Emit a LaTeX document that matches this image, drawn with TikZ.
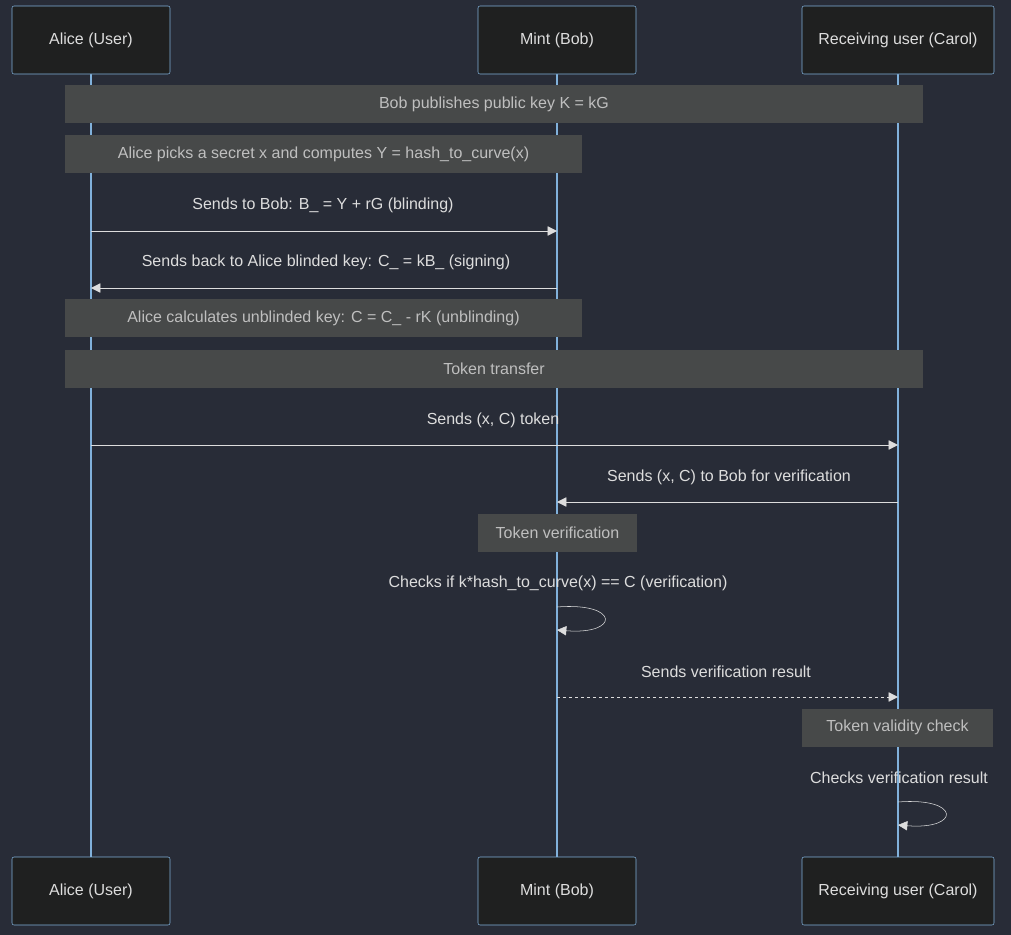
\documentclass[tikz,border=0pt]{standalone}
\usepackage{fontspec}
\setmainfont{Liberation Sans}
\usetikzlibrary{arrows.meta,positioning,calc}
\definecolor{bg}{HTML}{282C37}
\definecolor{actfill}{HTML}{1F2020}
\definecolor{actline}{HTML}{81B1DB}
\definecolor{notefill}{HTML}{474949}
\definecolor{msg}{HTML}{DDDDDD}
\definecolor{notetxt}{HTML}{BFBFBF}
\begin{document}
\begin{tikzpicture}[
		x=0.75pt, y=-0.75pt,
		font=\fontsize{12}{14}\selectfont,
		actor/.style={
			draw=actline, fill=actfill, text=msg, rounded corners=1.5pt, minimum height=51pt, inner sep=0pt
		},
		note/.style={
			fill=notefill, text=notetxt, minimum height=28.5pt, inner sep=0pt
		},
		msgtext/.style={text=msg},
		message/.style={draw=msg, -{Triangle[length=7pt,width=7pt]}},
		life/.style={draw=actline, line width=0.8pt},
		]
		\fill [bg] (0,0) rectangle (1011,935);
		\useasboundingbox (0,0) rectangle (1011,935);
		% lifelines
		\draw [life] (91,74) -- (91,857);
		\draw [life] (557,74) -- (557,857);
		\draw [life] (898,74) -- (898,857);
		% actors
		\node [actor, minimum width=118.5pt] (alice) at (91,40) {Alice (User)};
		\node [actor, minimum width=118.5pt] (mint) at (557,40) {Mint (Bob)};
		\node [actor, minimum width=144pt] (carol) at (898,40) {Receiving user (Carol)};
		\node [actor, minimum width=118.5pt] (aliceB) at (91,891) {Alice (User)};
		\node [actor, minimum width=118.5pt] (mintB) at (557,891) {Mint (Bob)};
		\node [actor, minimum width=144pt] (carolB) at (898,891) {Receiving user (Carol)};
		
		% notes
		\node [note, minimum width=643.5pt] (pub) at (494,104) {Bob publishes public key K = kG};
		\node [note, minimum width=387.75pt] (pick) at (323.5,154) {Alice picks a secret x and computes Y = hash\_to\_curve(x)};
		\node [note, minimum width=387.75pt] (calc) at (323.5,318) {Alice calculates unblinded key: C = C\_ - rK (unblinding)};
		\node [note, minimum width=643.5pt] (transfer) at (494,369) {Token transfer};
		\node [note, minimum width=119.25pt] (verif) at (557.5,532.5) {Token verification};
		\node [note, minimum width=143.25pt] (valid) at (897.5,727.5) {Token validity check};
		
		% message points
		\coordinate (a1) at (91,231); \coordinate (m1) at (557,231);
		\coordinate (a2) at (91,288); \coordinate (m2) at (557,288);
		\coordinate (a3) at (91,445); \coordinate (c3) at (898,445);
		\coordinate (m4) at (557,502); \coordinate (c4) at (898,502);
		\coordinate (m5) at (557,607); \coordinate (m5e) at (557,630);
		\coordinate (m6) at (557,697); \coordinate (c6) at (898,697);
		\coordinate (c7) at (898,802); \coordinate (c7e) at (898,825);
		
		% messages
		\draw [message] (a1) -- (m1);
		\node [msgtext] (t1) at (323,205) {Sends to Bob: B\_ = Y + rG (blinding)};
		\draw [message] (m2) -- (a2);
		\node [msgtext] (t2) at (326,262) {Sends back to Alice blinded key: C\_ = kB\_ (signing)};
		\draw [message] (a3) -- (c3);
		\node [msgtext] (t3) at (493,420) {Sends (x, C) token};
		\draw [message] (c4) -- (m4);
		\node [msgtext] (t4) at (729,477) {Sends (x, C) to Bob for verification};
		\draw [message] (m5) .. controls (620,602) and (620,635) .. (m5e);
		\node [msgtext] (t5) at (558,583) {Checks if k*hash\_to\_curve(x) == C (verification)};
		\draw [message, dash pattern=on 2.25pt off 2.25pt] (m6) -- (c6);
		\node [msgtext] (t6) at (726,672) {Sends verification result};
		\draw [message] (c7) .. controls (961,797) and (961,830) .. (c7e);
		\node [msgtext] (t7) at (899,778) {Checks verification result};
	\end{tikzpicture}
\end{document}
